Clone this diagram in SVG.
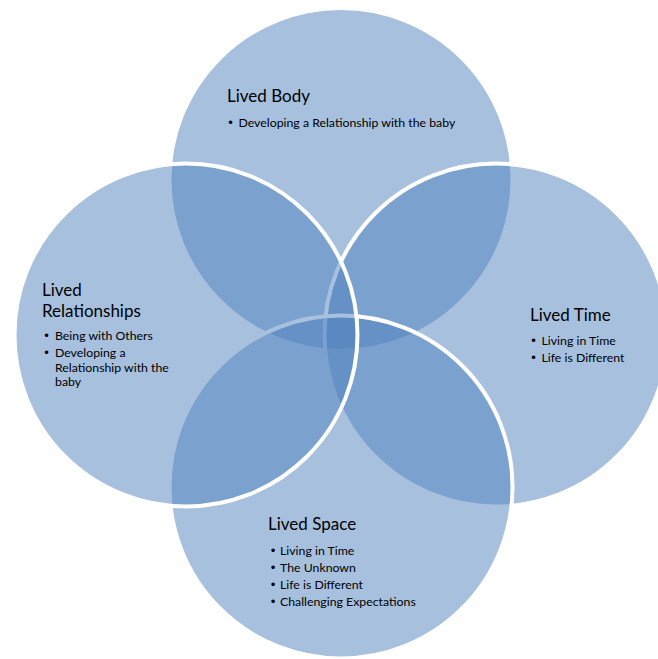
<svg xmlns="http://www.w3.org/2000/svg" width="658" height="659" viewBox="0 0 658 659">
  <style>
    .ring { fill: #4F81BD; fill-opacity: 0.5; stroke: #FFFFFF; stroke-width: 4; }
    .title { font-family: Lato, "Liberation Sans", sans-serif; font-size: 17px; fill: #000000; }
    .item { font-family: Lato, "Liberation Sans", sans-serif; font-size: 12.3px; fill: #000000; }
    .dot { font-family: "DejaVu Sans", sans-serif; font-size: 12px; fill: #000000; }
  </style>
  <rect width="658" height="659" fill="#FFFFFF"/>

  <!-- Lived Body (top) -->
  <g id="lived-body">
    <circle class="ring" cx="341" cy="179.5" r="171.5"/>
    <text class="title" x="227" y="102">Lived Body</text>
    <text class="dot" x="227" y="127">•</text>
    <text class="item" x="238.5" y="127">Developing a Relationship with the baby</text>
  </g>

  <!-- Lived Time (right) -->
  <g id="lived-time">
    <circle class="ring" cx="496" cy="335" r="171.5"/>
    <text class="title" x="530" y="321">Lived Time</text>
    <text class="dot" x="530" y="345">•</text>
    <text class="item" x="541.5" y="345">Living in Time</text>
    <text class="dot" x="530" y="362">•</text>
    <text class="item" x="541.5" y="362">Life is Different</text>
  </g>

  <!-- Lived Space (bottom) -->
  <g id="lived-space">
    <circle class="ring" cx="341" cy="487" r="171.5"/>
    <text class="title" x="268" y="530">Lived Space</text>
    <text class="dot" x="269.5" y="555">•</text>
    <text class="item" x="280" y="555">Living in Time</text>
    <text class="dot" x="269.5" y="572">•</text>
    <text class="item" x="280" y="572">The Unknown</text>
    <text class="dot" x="269.5" y="589">•</text>
    <text class="item" x="280" y="589">Life is Different</text>
    <text class="dot" x="269.5" y="606">•</text>
    <text class="item" x="280" y="606">Challenging Expectations</text>
  </g>

  <!-- Lived Relationships (left) -->
  <g id="lived-relationships">
    <circle class="ring" cx="186" cy="335" r="171.5"/>
    <text class="title" x="42" y="296">Lived</text>
    <text class="title" x="42" y="317">Relationships</text>
    <text class="dot" x="43" y="340">•</text>
    <text class="item" x="55" y="340">Being with Others</text>
    <text class="dot" x="43" y="357">•</text>
    <text class="item" x="55" y="357">Developing a</text>
    <text class="item" x="55" y="371.5">Relationship with the</text>
    <text class="item" x="55" y="386">baby</text>
  </g>

  <!-- connectors: none in this diagram -->
  <g id="connectors"/>
</svg>
